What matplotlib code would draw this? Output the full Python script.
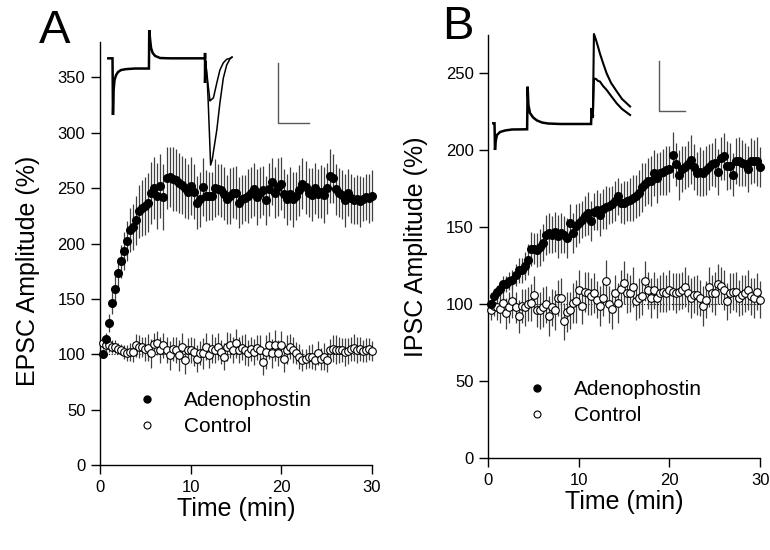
import matplotlib
matplotlib.use("Agg")
import matplotlib.pyplot as plt
from matplotlib.lines import Line2D
import numpy as np

plt.rcParams['font.family'] = ['Liberation Sans', 'DejaVu Sans']

# sample times (min), one sweep every 20 s
T = np.arange(1, 91) / 3

# --- panel A: EPSC amplitude (%) ---
A_adeno = [100, 114, 128, 146, 159, 173, 184, 193, 202, 212,
           215, 221, 229, 232, 234, 237, 246, 250, 243, 252,
           242, 259, 260, 258, 257, 255, 253, 250, 247, 252,
           247, 237, 240, 251, 243, 243, 243, 250, 249, 248,
           245, 240, 243, 246, 246, 237, 240, 241, 243, 246,
           249, 242, 246, 248, 239, 249, 256, 246, 251, 254,
           245, 240, 245, 240, 243, 248, 254, 251, 246, 244,
           250, 245, 247, 244, 250, 261, 259, 249, 246, 244,
           239, 246, 241, 239, 240, 238, 240, 242, 241, 243]
A_adeno_err = [2, 5, 8, 10, 12, 14, 15, 17, 18, 20,
               21, 22, 24, 25, 26, 27, 28, 28, 30, 29,
               30, 28, 27, 29, 28, 27, 26, 27, 25, 26,
               25, 24, 25, 26, 23, 22, 22, 26, 23, 24,
               24, 22, 25, 23, 24, 23, 22, 21, 24, 23,
               24, 25, 23, 22, 22, 24, 21, 23, 26, 24,
               22, 23, 24, 25, 22, 23, 23, 24, 22, 24,
               23, 22, 24, 25, 23, 24, 22, 23, 22, 22,
               24, 21, 22, 21, 22, 23, 20, 21, 22, 23]
A_ctrl = [110, 108, 108, 107, 107, 105, 104, 102, 101, 102,
          102, 108, 107, 107, 105, 106, 101, 109, 110, 104,
          108, 104, 99, 105, 104, 99, 107, 95, 104, 104,
          102, 96, 101, 101, 107, 99, 105, 104, 107, 102,
          98, 107, 108, 104, 110, 104, 106, 104, 101, 105,
          102, 106, 104, 93, 102, 108, 101, 108, 101, 108,
          96, 104, 107, 104, 101, 98, 95, 96, 98, 98,
          95, 101, 96, 98, 95, 104, 105, 104, 104, 104,
          102, 103, 105, 106, 104, 105, 103, 104, 105, 103]
A_ctrl_err = [5, 5, 6, 6, 6, 5, 5, 6, 7, 8,
              9, 10, 10, 9, 11, 12, 13, 10, 11, 12,
              11, 12, 13, 11, 12, 14, 12, 13, 11, 12,
              13, 12, 11, 14, 12, 11, 13, 12, 12, 11,
              12, 13, 11, 12, 13, 12, 11, 14, 12, 11,
              12, 11, 13, 12, 15, 12, 13, 14, 12, 13,
              12, 13, 11, 12, 10, 11, 10, 9, 10, 11,
              9, 11, 10, 12, 11, 10, 12, 13, 12, 11,
              13, 12, 11, 12, 12, 11, 10, 11, 10, 9]

# --- panel B: IPSC amplitude (%) ---
B_adeno = [100, 105, 108, 110, 113, 113, 115, 116, 119, 122,
           122, 125, 129, 136, 136, 135, 137, 140, 145, 146,
           145, 147, 144, 146, 145, 143, 153, 146, 151, 153,
           155, 157, 159, 154, 160, 161, 158, 162, 163, 164,
           165, 167, 170, 166, 166, 167, 168, 169, 170, 172,
           176, 178, 180, 180, 185, 182, 185, 186, 187, 188,
           197, 191, 184, 188, 189, 191, 194, 189, 185, 186,
           185, 187, 189, 191, 192, 186, 195, 196, 190, 190,
           184, 193, 193, 192, 191, 188, 193, 193, 193, 189]
B_adeno_err = [2, 3, 4, 4, 5, 5, 6, 6, 7, 8,
               8, 9, 10, 11, 10, 11, 12, 12, 13, 13,
               12, 13, 14, 13, 12, 13, 12, 13, 14, 13,
               12, 13, 14, 13, 12, 13, 14, 13, 14, 12,
               12, 13, 12, 13, 14, 13, 14, 15, 14, 15,
               16, 14, 15, 16, 15, 16, 14, 15, 16, 15,
               15, 14, 16, 15, 14, 15, 16, 15, 14, 16,
               15, 16, 15, 14, 16, 15, 14, 15, 16, 15,
               14, 15, 16, 15, 14, 15, 15, 14, 16, 13]
B_ctrl = [96, 99, 98, 97, 101, 94, 98, 102, 98, 92,
          99, 98, 100, 101, 106, 96, 96, 98, 100, 92,
          98, 96, 104, 104, 89, 95, 96, 101, 102, 109,
          99, 108, 107, 105, 107, 103, 99, 104, 115, 100,
          97, 107, 101, 110, 114, 107, 107, 111, 102, 104,
          105, 115, 109, 104, 109, 104, 107, 108, 107, 109,
          108, 107, 108, 109, 111, 107, 104, 106, 106, 104,
          99, 103, 111, 107, 107, 113, 112, 109, 102, 107,
          108, 108, 104, 106, 107, 109, 105, 104, 108, 103]
B_ctrl_err = [6, 7, 8, 9, 9, 10, 10, 11, 10, 11,
              11, 12, 11, 12, 12, 11, 12, 13, 12, 13,
              12, 13, 12, 13, 12, 13, 12, 13, 14, 13,
              12, 13, 14, 12, 13, 12, 13, 12, 14, 12,
              13, 12, 13, 12, 14, 13, 12, 13, 12, 13,
              12, 13, 12, 13, 12, 13, 12, 13, 12, 13,
              12, 13, 12, 12, 13, 12, 13, 12, 13, 12,
              13, 12, 13, 12, 14, 13, 12, 13, 12, 13,
              12, 13, 12, 13, 12, 13, 12, 13, 12, 12]

# --- example current traces (ms, pA) ---
A_tr_t = [0, 1.35, 1.5, 1.7, 2.0, 2.5, 3.1, 4.1, 5.7, 8.6, 13.1, 13.2, 13.5, 13.8,
          14.3, 15.1, 16.7, 19.9, 31.2, 31.2, 31.2, 31.4]
A_tr_i = [0, 0, -189, -106, -72, -56, -46, -39, -36, -34, -34, 94, 61, 34,
          18, 8, 1, 0, 0, 18, -82, -12]
A_big_t = [31.4, 31.9, 32.2, 32.7, 33.0, 33.5, 34.1, 35.0, 36.0, 37.1, 38.2, 39.3, 39.9]
A_big_i = [-12, -72, -139, -272, -356, -339, -299, -239, -149, -66, -22, -1, 4]
A_small_t = [31.4, 32.2, 32.8, 33.1, 33.9, 35.0, 36.0, 37.1, 38.2, 39.3, 39.9]
A_small_i = [-12, -89, -142, -139, -132, -82, -39, -15, -3, 0, 4]

B_tr_t = [0, 0.46, 0.65, 0.85, 1.4, 2.6, 4.5, 7.2, 13.0, 13.2, 13.5, 14.1, 15.3,
          16.8, 18.7, 21.0, 25.7, 37.6, 37.8, 38.2, 38.3]
B_tr_i = [1.4, 1.4, -52, -36, -22, -16, -13, -11, -10.6, 74.6, 38, 22, 13,
          7, 3, 1, 0, 0, 32, 12, 16]
B_big_t = [38.3, 38.7, 39.5, 40.3, 41.0, 42.2, 43.6, 45.3, 47.5, 49.5, 52.6]
B_big_i = [16, 180, 168, 154, 141, 122, 101, 82, 65, 50, 35]
B_small_t = [38.3, 38.7, 39.5, 40.3, 41.0, 42.2, 43.6, 45.3, 47.5, 49.5, 52.6]
B_small_i = [16, 91, 90, 86, 85, 76, 68, 56, 41, 30, 18]


def panel(ax, adeno, adeno_err, ctrl, ctrl_err, ymax, yticks, ylabel, ylab_y, xlab_y, leg_xy):
    ax.axhline(100, color="k", lw=0.8, ls=(0, (1, 1.5)), zorder=1)
    ax.errorbar(T, ctrl, yerr=ctrl_err, fmt="o", ms=5.5, mfc="white", mec="k", mew=0.8,
                ecolor="0.25", elinewidth=0.9, capsize=0, clip_on=False, zorder=3)
    ax.errorbar(T, adeno, yerr=adeno_err, fmt="o", ms=5.5, mfc="k", mec="k",
                ecolor="0.25", elinewidth=0.9, capsize=0, clip_on=False, zorder=4)
    ax.set_xlim(0, 30); ax.set_ylim(0, ymax)
    ax.set_xticks([0, 10, 20, 30]); ax.set_yticks(yticks)
    for s in ("top", "right"):
        ax.spines[s].set_visible(False)
    for s in ("left", "bottom"):
        ax.spines[s].set_linewidth(1.0)
    ax.tick_params(direction="out", length=6.5, width=1, labelsize=12, pad=4)
    ax.text(0.5, xlab_y, "Time (min)", transform=ax.transAxes, ha="center", va="center",
            fontsize=18)
    ax.text(-0.265, ylab_y, ylabel, transform=ax.transAxes, ha="center", va="center",
            rotation=90, fontsize=18)
    h = [Line2D([], [], ls="none", marker="o", ms=5, mfc="k", mec="k"),
         Line2D([], [], ls="none", marker="o", ms=5, mfc="white", mec="k", mew=0.8)]
    ax.legend(h, ["Adenophostin", "Control"], loc="upper left", bbox_to_anchor=leg_xy,
              frameon=False, fontsize=15, handlelength=1.0, handletextpad=1.25,
              labelspacing=0.33, borderpad=0, borderaxespad=0)


def trace_inset(rect, xlim, ylim, base, big, small, bar, lw_main, lw_evt):
    ia = fig.add_axes(rect)
    ia.plot(*base, color="k", lw=lw_main, solid_joinstyle="miter")
    ia.plot(*big, color="k", lw=lw_evt)
    ia.plot(*small, color="k", lw=lw_evt)
    (bx, by, bw, bh) = bar
    ia.plot([bx, bx, bx + bw], [by + bh, by, by], color="0.35", lw=1.0)
    ia.set_xlim(*xlim); ia.set_ylim(*ylim)
    ia.axis("off")


fig = plt.figure(figsize=(7.7, 5.5), dpi=100)
axA = fig.add_axes([0.1299, 0.1545, 0.3532, 0.7691])
axB = fig.add_axes([0.6342, 0.1673, 0.3529, 0.7691])

panel(axA, A_adeno, A_adeno_err, A_ctrl, A_ctrl_err, 382, range(0, 351, 50),
      "EPSC Amplitude (%)", 0.46, -0.104, (0.135, 0.175))
panel(axB, B_adeno, B_adeno_err, B_ctrl, B_ctrl_err, 275, range(0, 251, 50),
      "IPSC Amplitude (%)", 0.50, -0.104, (0.142, 0.184))

# scale bars: 10 ms / 200 pA (A), 10 ms / 100 pA (B)
trace_inset([0.1299, 0.6818, 0.2857, 0.2818], (-2.68, 68.3), (-389, 127.7),
            (A_tr_t, A_tr_i), (A_big_t, A_big_i), (A_small_t, A_small_i),
            (54.8, -216.7, 10, 200), 1.8, 1.1)
trace_inset([0.6299, 0.7091, 0.2792, 0.2455], (-3.19, 79.5), (-72, 198),
            (B_tr_t, B_tr_i), (B_big_t, B_big_i), (B_small_t, B_small_i),
            (63.7, 26.6, 10, 100), 1.8, 1.5)

fig.text(39 / 770, 1 - 43 / 550, "A", fontsize=34, va="baseline", ha="left")
fig.text(442 / 770, 1 - 39 / 550, "B", fontsize=34, va="baseline", ha="left")

fig.savefig("out.png", dpi=100)
